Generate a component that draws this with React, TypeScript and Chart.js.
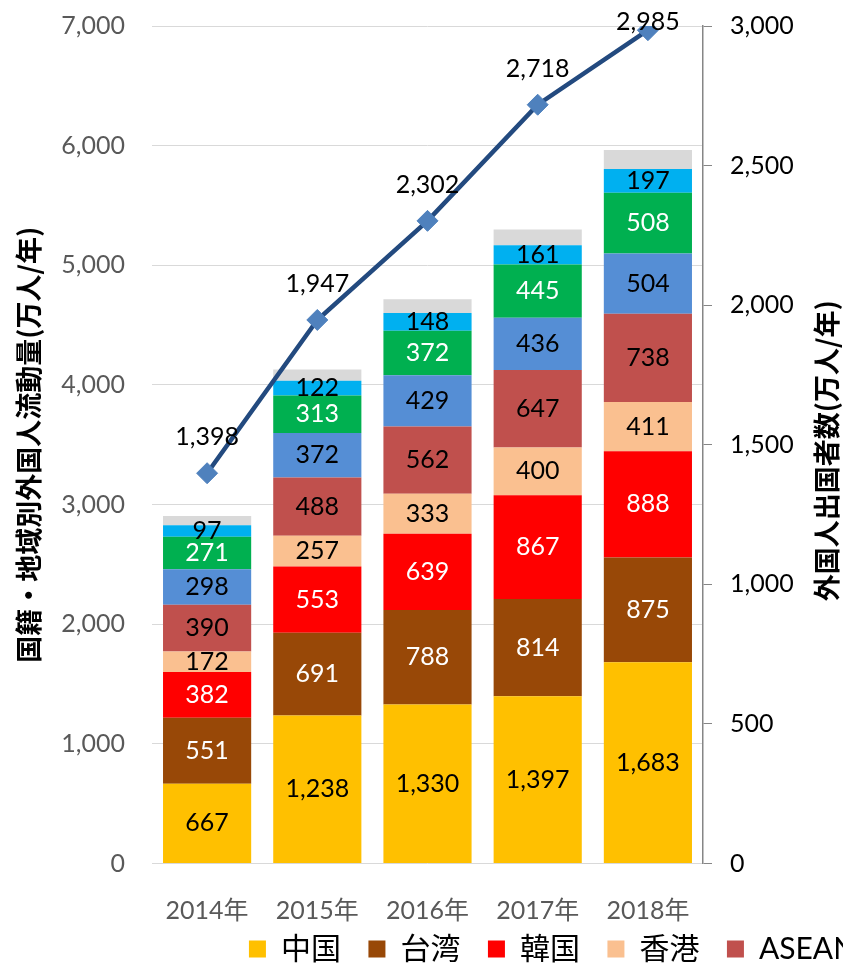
import React, { useEffect, useRef } from "react";
import { Chart, registerables } from "chart.js";

Chart.register(...registerables);

const years = ["2014年", "2015年", "2016年", "2017年", "2018年"];
const china = [667, 1238, 1330, 1397, 1683];
const taiwan = [551, 691, 788, 814, 875];
const korea = [382, 553, 639, 867, 888];
const hongkong = [172, 257, 333, 400, 411];
const asean = [390, 488, 562, 647, 738];
const westerners = [298, 372, 429, 436, 504];
const otherAsia = [271, 313, 372, 445, 508];
const oceania = [97, 122, 148, 161, 197];
const others = [76, 95, 116, 132, 159];
const departures = [1398, 1947, 2302, 2718, 2985];

const leftTitle = "国籍・地域別外国人流動量(万人/年)";
const rightTitle = "外国人出国者数(万人/年)";

const NUM_FONT = "Lato, 'Noto Sans CJK JP', sans-serif";
const CJK_FONT = "'Noto Sans CJK JP', sans-serif";

const CANVAS_W = 1105;
const CANVAS_H = 997;

const fmt = (v: number) => v.toLocaleString("en-US");

export default function App() {
  const ref = useRef<HTMLCanvasElement | null>(null);

  useEffect(() => {
    if (!ref.current) return;
    const barSets = [
      { label: "中国", data: china, color: "#FFC000", text: "#000000" },
      { label: "台湾", data: taiwan, color: "#984807", text: "#FFFFFF" },
      { label: "韓国", data: korea, color: "#FF0000", text: "#FFFFFF" },
      { label: "香港", data: hongkong, color: "#FAC090", text: "#000000" },
      { label: "ASEAN", data: asean, color: "#C0504D", text: "#000000" },
      { label: "欧米", data: westerners, color: "#558ED5", text: "#000000" },
      { label: "その他アジア", data: otherAsia, color: "#00B050", text: "#FFFFFF" },
      { label: "豪州", data: oceania, color: "#00B0F0", text: "#000000" },
      { label: "その他", data: others, color: "#D9D9D9", text: null },
    ];

    const labelPlugin = {
      id: "valueLabels",
      afterLayout(chart: any) {
        if (chart.legend) {
          chart.legend.top -= 23;
          chart.legend.bottom -= 23;
        }
      },
      afterDatasetsDraw(chart: any) {
        const ctx = chart.ctx;
        ctx.save();
        ctx.font = `25px ${NUM_FONT}`;
        ctx.textAlign = "center";
        ctx.textBaseline = "middle";
        barSets.forEach((s, i) => {
          if (!s.text) return;
          const meta = chart.getDatasetMeta(i);
          meta.data.forEach((el: any, j: number) => {
            ctx.fillStyle = s.text;
            ctx.fillText(fmt(s.data[j]), el.x, (el.y + el.base) / 2);
          });
        });
        const lineMeta = chart.getDatasetMeta(barSets.length);
        ctx.fillStyle = "#000000";
        lineMeta.data.forEach((el: any, j: number) => {
          const y = Math.max(el.y - 36, 22);
          ctx.fillText(fmt(departures[j]), el.x, y);
        });
        ctx.restore();
      },
      afterDraw(chart: any) {
        const ctx = chart.ctx;
        const area = chart.chartArea;
        ctx.save();
        ctx.font = `bold 27px ${CJK_FONT}`;
        ctx.fillStyle = "#000000";
        ctx.textAlign = "center";
        ctx.textBaseline = "middle";
        ctx.translate(827, (area.top + area.bottom) / 2 + 6);
        ctx.rotate(-Math.PI / 2);
        ctx.fillText(rightTitle, 0, 0);
        ctx.restore();
      },
    };

    const chart = new Chart(ref.current, {
      type: "bar",
      data: {
        labels: years,
        datasets: [
          ...barSets.map((s) => ({
            type: "bar" as const,
            label: s.label,
            data: s.data,
            backgroundColor: s.color,
            borderWidth: 0,
            yAxisID: "y",
            order: 1,
            barPercentage: 0.8,
            categoryPercentage: 1.0,
          })),
          {
            type: "line" as const,
            label: "外国人出国者数",
            data: departures,
            borderColor: "#234A7F",
            borderWidth: 4.5,
            pointStyle: "rectRot",
            pointRadius: 10.5,
            pointBackgroundColor: "#4F81BD",
            pointBorderColor: "#4F81BD",
            pointBorderWidth: 1,
            tension: 0,
            yAxisID: "y1",
            order: 0,
          },
        ],
      },
      options: {
        responsive: false,
        animation: false,
        devicePixelRatio: 1,
        layout: { padding: { top: 26, left: 0, right: 0, bottom: 0 } },
        plugins: {
          tooltip: { enabled: false },
          legend: {
            position: "bottom",
            labels: {
              filter: (item: any) => item.datasetIndex <= 4,
              boxWidth: 17,
              boxHeight: 17,
              padding: 27.5,
              color: "#000000",
              font: { size: 30, family: NUM_FONT },
            },
          },
        },
        scales: {
          x: {
            stacked: true,
            grid: { display: false, drawTicks: false },
            border: { display: false },
            ticks: {
              color: "#595959",
              font: { size: 25, family: NUM_FONT },
              padding: 32,
            },
            afterFit: (s: any) => {
              s.height = 66;
            },
          },
          y: {
            stacked: true,
            position: "left",
            min: 0,
            max: 7000,
            grid: { color: "#D9D9D9", lineWidth: 1, drawTicks: false },
            border: { display: false },
            ticks: {
              stepSize: 1000,
              color: "#595959",
              padding: 27,
              font: { size: 25, family: NUM_FONT },
              callback: (v: any) => fmt(Number(v)),
            },
            title: {
              display: true,
              text: leftTitle,
              color: "#000000",
              font: { size: 27, weight: "bold", family: CJK_FONT },
              padding: { top: 13, bottom: 0 },
            },
            afterFit: (s: any) => {
              s.width = 152;
              s.paddingTop = 15;
              s.paddingBottom = 15;
            },
          },
          y1: {
            position: "right",
            min: 0,
            max: 3000,
            grid: {
              drawOnChartArea: false,
              color: "#868686",
              tickLength: 9,
            },
            border: { display: true, color: "#868686", width: 1.5 },
            ticks: {
              stepSize: 500,
              color: "#000000",
              padding: 18,
              font: { size: 25, family: NUM_FONT },
              callback: (v: any) => fmt(Number(v)),
            },
            afterFit: (s: any) => {
              s.width = CANVAS_W - 703;
              s.paddingTop = 15;
              s.paddingBottom = 15;
            },
          },
        },
      },
      plugins: [labelPlugin],
    } as any);
    return () => chart.destroy();
  }, []);

  return (
    <div
      style={{
        position: "fixed",
        left: 0,
        top: 0,
        width: 843,
        height: 963,
        overflow: "hidden",
        background: "#FFFFFF",
      }}
    >
      <canvas
        ref={ref}
        width={CANVAS_W}
        height={CANVAS_H}
        style={{ width: CANVAS_W, height: CANVAS_H, display: "block" }}
      />
    </div>
  );
}
